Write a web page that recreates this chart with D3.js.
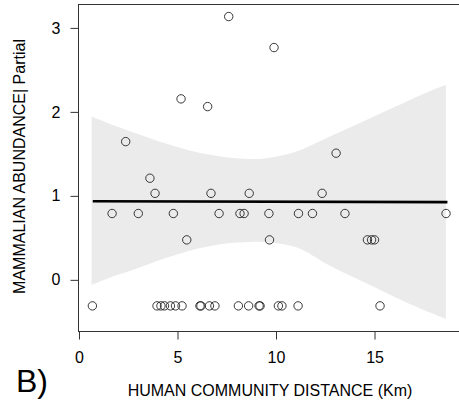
<!DOCTYPE html>
<html>
<head>
<meta charset="utf-8">
<script src="https://cdn.jsdelivr.net/npm/d3@7"></script>
<style>
  html, body { margin: 0; padding: 0; background: #fff; }
  svg { display: block; font-family: "Liberation Sans", Arial, sans-serif; }
</style>
</head>
<body>
<svg id="chart" width="459" height="405"></svg>
<script>
// Partial residuals: human community distance (km) vs mammalian abundance
const distKm = [
  0.68, 3.96, 4.16, 4.34, 4.64, 4.90, 5.23, 6.14, 6.19, 6.62, 6.90, 8.09, 8.61, 9.14, 9.19, 10.12, 10.30, 11.12, 15.28,
  1.68, 3.01, 4.79, 7.11, 8.17, 8.38, 9.64, 11.14, 11.85, 13.50, 18.63,
  5.47, 9.67, 14.64, 14.85, 15.00,
  3.86, 6.70, 8.64, 12.34,
  3.60, 2.37, 5.18, 6.53, 7.60, 9.90, 13.05
];
const partialAbund = [
  -0.31, -0.31, -0.31, -0.31, -0.31, -0.31, -0.31, -0.31, -0.31, -0.31, -0.31, -0.31, -0.31, -0.31, -0.31, -0.31, -0.31, -0.31, -0.31,
  0.79, 0.79, 0.79, 0.79, 0.79, 0.79, 0.79, 0.79, 0.79, 0.79, 0.79,
  0.476, 0.476, 0.476, 0.476, 0.476,
  1.03, 1.03, 1.03, 1.03,
  1.21, 1.646, 2.155, 2.063, 3.135, 2.766, 1.508
];

// Fitted line and its confidence band
const fitX = [0.7, 18.7];
const fitY = [0.935, 0.925];
const bandX     = [0.64, 1.49, 2.76, 4.45, 5.89, 7.56, 8.6, 9.30, 11.0, 12.74, 14.42, 16.13, 17.82, 18.62];
const bandUpper = [1.944, 1.865, 1.755, 1.62, 1.525, 1.457, 1.44, 1.443, 1.525, 1.706, 1.885, 2.07, 2.25, 2.32];
const bandLower = [-0.06, 0.02, 0.12, 0.262, 0.365, 0.436, 0.452, 0.452, 0.39, 0.167, -0.024, -0.215, -0.39, -0.465];

const xTicks = [0, 5, 10, 15];
const yTicks = [0, 1, 2, 3];

const svg = d3.select("#chart");
const x = d3.scaleLinear().domain([-0.02, 19.42]).range([78.6, 461.6]);
const y = d3.scaleLinear().domain([-0.615, 3.275]).range([331.5, 4.8]);

// Confidence band
const band = bandX.map((v, i) => ({ x: v, lo: bandLower[i], hi: bandUpper[i] }));
svg.append("path")
  .datum(band)
  .attr("fill", "#ebebeb")
  .attr("d", d3.area().x(d => x(d.x)).y0(d => y(d.lo)).y1(d => y(d.hi)).curve(d3.curveCatmullRom));

// Fitted line
svg.append("path")
  .datum(fitX.map((v, i) => [v, fitY[i]]))
  .attr("fill", "none")
  .attr("stroke", "#000")
  .attr("stroke-width", 2.6)
  .attr("d", d3.line().x(d => x(d[0])).y(d => y(d[1])));

// Points
svg.append("g").selectAll("circle")
  .data(distKm.map((v, i) => [v, partialAbund[i]]))
  .join("circle")
  .attr("cx", d => x(d[0]))
  .attr("cy", d => y(d[1]))
  .attr("r", 4.2)
  .attr("fill", "none")
  .attr("stroke", "#222")
  .attr("stroke-width", 0.9);

// Plot frame
svg.append("rect")
  .attr("x", 78.5).attr("y", 4.5)
  .attr("width", 383).attr("height", 327)
  .attr("fill", "none").attr("stroke", "#333").attr("stroke-width", 1);

// Axes
const xAxis = svg.append("g")
  .attr("transform", "translate(0,331.5)")
  .call(d3.axisBottom(x).tickValues(xTicks).tickSize(8).tickPadding(12).tickFormat(d3.format("d")));
const yAxis = svg.append("g")
  .attr("transform", "translate(78.5,0)")
  .call(d3.axisLeft(y).tickValues(yTicks).tickSize(8).tickPadding(10).tickFormat(d3.format("d")));
[xAxis, yAxis].forEach(g => {
  g.select(".domain").remove();
  g.selectAll(".tick line").attr("stroke", "#333");
  g.selectAll(".tick text").attr("fill", "#000").style("font-size", "16px")
    .style("font-family", "\"Liberation Sans\", Arial, sans-serif");
});

// Axis titles
svg.append("text")
  .attr("x", 270).attr("y", 396)
  .attr("text-anchor", "middle")
  .style("font-size", "16px")
  .text("HUMAN COMMUNITY DISTANCE (Km)");
svg.append("text")
  .attr("transform", "translate(25,166.5) rotate(-90)")
  .attr("text-anchor", "middle")
  .style("font-size", "16px")
  .text("MAMMALIAN ABUNDANCE| Partial");

// Panel letter
svg.append("text")
  .attr("x", 16).attr("y", 392)
  .style("font-size", "32px")
  .text("B)");
</script>
</body>
</html>
